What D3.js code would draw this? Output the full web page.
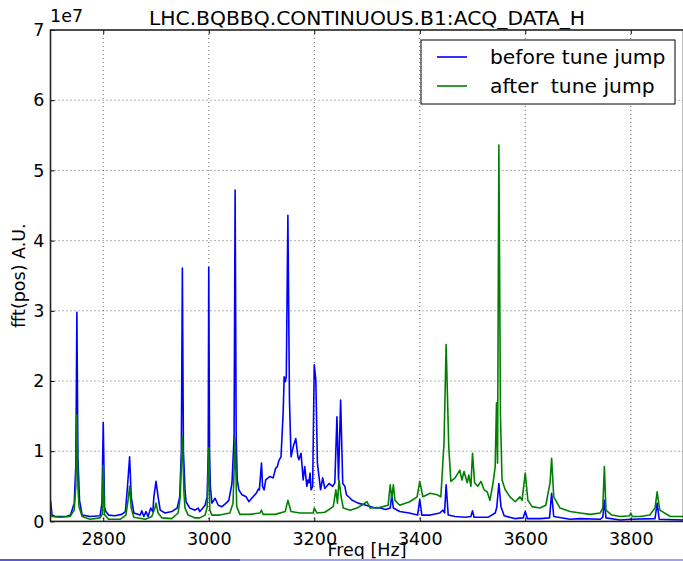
<!DOCTYPE html>
<html>
<head>
<meta charset="utf-8">
<script src="https://cdn.jsdelivr.net/npm/d3@7"></script>
<style>
  body { margin: 0; background: #fff; }
  text { font-family: "DejaVu Sans", sans-serif; fill: #000; }
</style>
</head>
<body>
<div id="chart"></div>
<script>
// spectrum: [freq Hz, amplitude in 1e7 A.U.]
const beforeJump = [
  [2700, 0.30], [2703, 0.09], [2709, 0.07], [2720, 0.07], [2730, 0.07], [2738, 0.09],
  [2745, 0.26], [2748, 0.8], [2750, 2.98], [2752, 0.9], [2755, 0.3], [2760, 0.09],
  [2775, 0.07], [2794, 0.08], [2797.5, 0.26], [2800, 1.41], [2802.5, 0.2], [2805, 0.14],
  [2810, 0.09], [2822, 0.08], [2835, 0.1], [2842, 0.14], [2846, 0.5], [2850, 0.92],
  [2853, 0.35], [2858, 0.12], [2870, 0.09], [2873, 0.15], [2877, 0.07], [2881, 0.14],
  [2885, 0.07], [2890, 0.19], [2894, 0.14], [2896, 0.35], [2900, 0.57], [2904, 0.35],
  [2908, 0.16], [2917, 0.12], [2930, 0.14], [2940, 0.19], [2945, 0.35], [2948, 1.0],
  [2950, 3.61], [2952, 1.0], [2955, 0.45], [2957, 0.28], [2964, 0.19], [2974, 0.16],
  [2980, 0.19], [2983, 0.14], [2989, 0.19], [2993, 0.23], [2997, 0.35], [2999, 1.0],
  [3000, 3.62], [3001.5, 1.0], [3003, 0.5], [3006, 0.26], [3012, 0.33], [3018, 0.23],
  [3025, 0.21], [3033, 0.26], [3038, 0.3], [3044, 0.54], [3048, 1.2], [3050, 4.72],
  [3052, 1.2], [3054, 0.6], [3057, 0.45], [3063, 0.38], [3071, 0.35], [3076, 0.28],
  [3084, 0.35], [3090, 0.4], [3094, 0.46], [3096, 0.45], [3100, 0.83], [3102, 0.5],
  [3105, 0.45], [3108, 0.59], [3116, 0.64], [3122, 0.62], [3127, 0.76], [3130, 0.78],
  [3133, 0.87], [3137, 0.92], [3141, 1.54], [3143, 2.06], [3145, 1.99], [3147, 2.06],
  [3150, 4.36], [3153, 1.73], [3156, 0.92], [3161, 1.09], [3165, 1.18], [3169, 0.92],
  [3171, 0.88], [3175, 0.97], [3179, 0.59], [3182, 0.78], [3186, 0.5], [3188, 0.59],
  [3190, 0.55], [3192, 0.69], [3194, 0.45], [3197, 0.5], [3200, 2.23], [3203, 2.01],
  [3206, 0.83], [3212, 0.45], [3216, 0.62], [3220, 0.47], [3228, 0.54], [3235, 0.5],
  [3239, 0.55], [3243, 1.49], [3246, 0.59], [3250, 1.73], [3254, 0.54], [3258, 0.5],
  [3261, 0.38], [3268, 0.33], [3272, 0.3], [3283, 0.26], [3298, 0.23], [3315, 0.19],
  [3325, 0.19], [3335, 0.17], [3344, 0.19], [3347, 0.38], [3350, 0.19], [3362, 0.14],
  [3380, 0.12], [3396, 0.09], [3400, 0.31], [3404, 0.09], [3420, 0.09], [3438, 0.12],
  [3444, 0.16], [3447, 0.12], [3450, 0.52], [3454, 0.09], [3467, 0.07], [3486, 0.06],
  [3497, 0.07], [3500, 0.15], [3503, 0.06], [3530, 0.06], [3543, 0.12], [3546, 0.2],
  [3550, 0.54], [3554, 0.21], [3560, 0.08], [3580, 0.04], [3596, 0.05], [3600, 0.14],
  [3604, 0.04], [3628, 0.04], [3646, 0.05], [3650, 0.4], [3654, 0.07], [3685, 0.03],
  [3704, 0.04], [3742, 0.03], [3747, 0.06], [3750, 0.3], [3753, 0.05], [3780, 0.02],
  [3800, 0.03], [3846, 0.04], [3850, 0.26], [3854, 0.03], [3900, 0.02]
]

const afterJump = [
  [2700, 0.16], [2703, 0.07], [2718, 0.06], [2737, 0.07], [2745, 0.16], [2748, 0.5],
  [2750, 1.52], [2752, 0.5], [2754, 0.21], [2760, 0.07], [2775, 0.03], [2794, 0.05],
  [2798, 0.1], [2800, 0.8], [2802, 0.1], [2810, 0.03], [2832, 0.03], [2843, 0.09],
  [2847, 0.3], [2850, 0.5], [2853, 0.19], [2858, 0.06], [2880, 0.03], [2892, 0.07],
  [2898, 0.19], [2900, 0.26], [2904, 0.12], [2911, 0.05], [2930, 0.04], [2942, 0.12],
  [2946, 0.35], [2950, 1.21], [2953, 0.4], [2955, 0.19], [2961, 0.09], [2974, 0.05],
  [2983, 0.05], [2993, 0.09], [2997, 0.2], [3000, 1.05], [3002, 0.16], [3006, 0.09],
  [3021, 0.09], [3040, 0.12], [3046, 0.26], [3050, 1.18], [3053, 0.21], [3059, 0.1],
  [3078, 0.1], [3097, 0.12], [3100, 0.16], [3103, 0.1], [3126, 0.1], [3145, 0.14],
  [3150, 0.3], [3156, 0.14], [3173, 0.12], [3192, 0.12], [3198, 0.12], [3200, 0.19],
  [3205, 0.12], [3220, 0.13], [3236, 0.21], [3241, 0.45], [3244, 0.26], [3247, 0.59],
  [3251, 0.35], [3255, 0.19], [3268, 0.16], [3281, 0.19], [3300, 0.28], [3306, 0.19],
  [3325, 0.2], [3340, 0.23], [3344, 0.52], [3347, 0.33], [3350, 0.52], [3353, 0.3],
  [3362, 0.23], [3381, 0.28], [3395, 0.35], [3400, 0.57], [3406, 0.35], [3420, 0.4],
  [3433, 0.38], [3440, 0.35], [3446, 1.12], [3450, 2.52], [3455, 1.06], [3459, 0.57],
  [3467, 0.62], [3476, 0.73], [3480, 0.59], [3484, 0.71], [3490, 0.55], [3493, 0.66],
  [3497, 0.5], [3500, 0.97], [3504, 0.55], [3510, 0.5], [3516, 0.57], [3522, 0.45],
  [3528, 0.42], [3533, 0.3], [3539, 0.55], [3543, 0.78], [3545.5, 1.69], [3547.5, 0.83],
  [3550, 5.36], [3553, 1.5], [3556, 0.59], [3562, 0.45], [3571, 0.35], [3581, 0.28],
  [3590, 0.35], [3594, 0.3], [3600, 0.69], [3605, 0.3], [3613, 0.21], [3628, 0.19],
  [3639, 0.23], [3647, 0.55], [3650, 0.9], [3654, 0.35], [3666, 0.19], [3685, 0.14],
  [3704, 0.12], [3723, 0.1], [3742, 0.12], [3747, 0.19], [3750, 0.78], [3753, 0.16],
  [3764, 0.09], [3780, 0.07], [3798, 0.08], [3800, 0.12], [3803, 0.07], [3818, 0.07],
  [3836, 0.09], [3846, 0.19], [3850, 0.42], [3855, 0.16], [3875, 0.07], [3900, 0.07]
]

const seriesNames = ['before tune jump', 'after  tune jump']
const seriesColors = ['#0000ff', '#008000']
const xTicks = [2800, 3000, 3200, 3400, 3600, 3800]
const yTicks = [0, 1, 2, 3, 4, 5, 6, 7]

const W = 683, H = 561
const box = { left: 50.5, right: 683.5, top: 30, bottom: 521.4 }

const svg = d3.select('#chart').append('svg')
  .attr('width', W).attr('height', H)

const x = d3.scaleLinear().domain([2700, 3900]).range([box.left, box.right])
const y = d3.scaleLinear().domain([0, 7]).range([box.bottom, box.top])

svg.append('defs').append('clipPath').attr('id', 'plot')
  .append('rect')
  .attr('x', box.left).attr('y', box.top)
  .attr('width', box.right - box.left).attr('height', box.bottom - box.top)

//dotted grid
const grid = svg.append('g')
  .attr('stroke', '#444').attr('stroke-width', 0.8).attr('stroke-dasharray', '1,3')
grid.selectAll('.gx').data(xTicks).join('line')
  .attr('x1', d => x(d)).attr('x2', d => x(d))
  .attr('y1', box.top).attr('y2', box.bottom)
grid.selectAll('.gy').data(yTicks.slice(1, -1)).join('line')
  .attr('x1', box.left).attr('x2', box.right)
  .attr('y1', d => y(d)).attr('y2', d => y(d))

//lines
const line = d3.line().x(d => x(d[0])).y(d => y(d[1]))
const lines = svg.append('g').attr('clip-path', 'url(#plot)')
;[beforeJump, afterJump].forEach((s, i) => {
  lines.append('path')
    .datum(s)
    .attr('fill', 'none')
    .attr('stroke', seriesColors[i])
    .attr('stroke-width', 1.6)
    .attr('stroke-linejoin', 'round')
    .attr('d', line)
})

//axes, ticks pointing inwards
svg.append('g')
  .attr('transform', `translate(0,${box.bottom})`)
  .call(d3.axisBottom(x).tickValues(xTicks).tickSize(-4).tickPadding(11).tickFormat(d3.format('d')))
svg.append('g')
  .attr('transform', `translate(0,${box.top})`)
  .call(d3.axisTop(x).tickValues(xTicks).tickSize(-4).tickFormat(''))
svg.append('g')
  .attr('transform', `translate(${box.left},0)`)
  .call(d3.axisLeft(y).tickValues(yTicks).tickSize(-4).tickPadding(6).tickFormat(d3.format('d')))

svg.selectAll('.domain').remove()
svg.selectAll('.tick line').attr('stroke', '#000')
svg.selectAll('.tick text')
  .style('font-family', '"DejaVu Sans", sans-serif')
  .style('font-size', '17.5px')
  .attr('fill', '#000')

//frame
svg.append('rect')
  .attr('x', box.left).attr('y', box.top)
  .attr('width', box.right - box.left).attr('height', box.bottom - box.top)
  .attr('fill', 'none').attr('stroke', '#222').attr('stroke-width', 1.6)

//texts
svg.append('text')
  .attr('x', (box.left + box.right) / 2).attr('y', 24.5)
  .attr('text-anchor', 'middle').style('font-size', '20.3px')
  .text('LHC.BQBBQ.CONTINUOUS.B1:ACQ_DATA_H')

svg.append('text')
  .attr('x', 50).attr('y', 22)
  .style('font-size', '17.5px')
  .text('1e7')

svg.append('text')
  .attr('x', (box.left + box.right) / 2).attr('y', 556)
  .attr('text-anchor', 'middle').style('font-size', '17.5px')
  .text('Freq [Hz]')

svg.append('text')
  .attr('transform', `translate(25,${(box.top + box.bottom) / 2}) rotate(-90)`)
  .attr('text-anchor', 'middle').style('font-size', '17.5px')
  .text('fft(pos) A.U.')

//legend
const legend = svg.append('g')
legend.append('rect')
  .attr('x', 421).attr('y', 40).attr('width', 254).attr('height', 64)
  .attr('fill', '#fff').attr('stroke', '#000').attr('stroke-width', 1)
seriesNames.forEach((name, i) => {
  const ly = 57 + i * 29
  legend.append('line')
    .attr('x1', 437).attr('x2', 467).attr('y1', ly).attr('y2', ly)
    .attr('stroke', seriesColors[i]).attr('stroke-width', 1.6)
  legend.append('text')
    .attr('x', 490).attr('y', ly + 7)
    .style('font-size', '20.3px')
    .style('white-space', 'pre')
    .attr('xml:space', 'preserve')
    .text(name)
})

//strip along the bottom edge of the screenshot
svg.append('rect').attr('x', 0).attr('y', 559).attr('width', 240).attr('height', 2).attr('fill', '#5a5ad0')
svg.append('rect').attr('x', 240).attr('y', 559).attr('width', 443).attr('height', 2).attr('fill', '#a0a0e6')
</script>
</body>
</html>
